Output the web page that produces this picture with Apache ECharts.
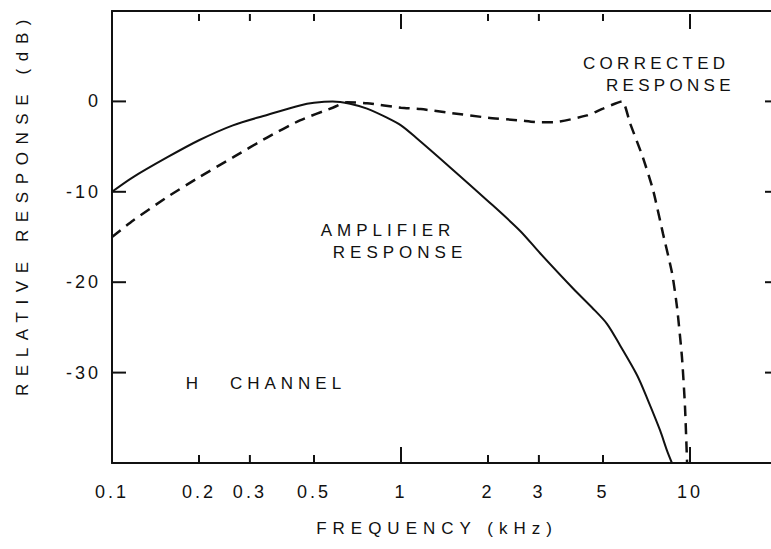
<!DOCTYPE html>
<html>
<head>
<meta charset="utf-8">
<script src="https://cdn.jsdelivr.net/npm/echarts@6/dist/echarts.min.js"></script>
<style>
  html, body { margin: 0; padding: 0; background: #ffffff; }
  #chart { width: 771px; height: 549px; }
</style>
</head>
<body>
<div id="chart"></div>
<script>
// Amplifier response (solid curve): frequency in kHz, level in dB
const ampFreq = [0.1, 0.118, 0.155, 0.2, 0.262, 0.344, 0.447, 0.5, 0.58, 0.666, 0.763, 0.894, 1.0, 1.136, 1.48, 1.98, 2.58, 3.03, 3.94, 4.58, 5.16, 5.73, 6.56, 7.16, 7.88, 8.32, 8.66];
const ampDb   = [-10, -8.4, -6.2, -4.3, -2.65, -1.5, -0.45, -0.15, 0, -0.25, -0.8, -1.8, -2.65, -4.1, -7.3, -10.9, -14.3, -16.8, -20.7, -22.8, -24.6, -27.0, -30.3, -33.1, -36.4, -38.6, -40];

// Corrected response (dashed curve)
const corFreq = [0.1, 0.118, 0.155, 0.2, 0.262, 0.344, 0.447, 0.58, 0.65, 0.763, 1.0, 1.17, 1.5, 2.0, 2.58, 3.0, 3.36, 4.4, 5.0, 5.82, 6.2, 6.87, 7.45, 8.06, 8.67, 9.02, 9.38, 9.61, 9.77];
const corDb   = [-15, -13.2, -10.6, -8.4, -6.2, -4.0, -2.1, -0.7, -0.1, -0.2, -0.7, -0.85, -1.3, -1.8, -2.1, -2.3, -2.3, -1.55, -0.8, 0, -2.4, -6.2, -9.8, -14.6, -19.0, -22.8, -28.3, -33.8, -40];

// Frequency axis ticks (kHz)
const xTickLabels = ['0.1', '0.2', '0.3', '0.5', '1', '2', '3', '5', '10'];
const xMinorTicks = [0.2, 0.3, 0.5, 2, 3, 5];
const xMajorTicks = [1, 10];
const xRange = [0.1, 20];

// Level axis ticks (dB)
const yTicks = [0, -10, -20, -30];
const yRange = [-40, 10];

const INK = '#111';
const FONT = '"Liberation Sans", Arial, Helvetica, sans-serif';

// frequency axis is drawn on log10(kHz)
const lg = v => Math.log10(v);
const toPairs = (fs, ds) => fs.map((f, i) => [lg(f), ds[i]]);

function freqLabel(v) {
  for (const s of xTickLabels) {
    if (Math.abs(lg(parseFloat(s)) - v) < 1e-6) return s;
  }
  return '';
}

const frameLine = { show: true, onZero: false, lineStyle: { color: INK, width: 2 } };

function caption(text, x, y, align, rotation) {
  return {
    type: 'text', x, y, rotation: rotation || 0, z: 10,
    style: { text, fill: INK, font: '17px ' + FONT, textAlign: align || 'center', textVerticalAlign: 'middle' }
  };
}
const captions = [
  caption('CORRECTED', 583, 63, 'left'),
  caption('RESPONSE', 606, 85, 'left'),
  caption('AMPLIFIER', 388, 230),
  caption('RESPONSE', 400, 252),
  caption('H', 192, 383),
  caption('CHANNEL', 288, 383),
  caption('FREQUENCY (kHz)', 437, 528),
  caption('RELATIVE RESPONSE (dB)', 22, 204, 'center', Math.PI / 2)
];

const option = {
  backgroundColor: '#ffffff',
  animation: false,
  grid: { left: 112, top: 11, right: -6, bottom: 86, containLabel: false, outerBoundsMode: 'none' },
  xAxis: [
    {
      type: 'value', position: 'bottom', min: lg(xRange[0]), max: lg(xRange[1]),
      splitLine: { show: false }, axisTick: { show: false }, axisLine: frameLine,
      axisLabel: {
        show: true, margin: 20, color: INK, fontFamily: FONT, fontSize: 18,
        customValues: xTickLabels.map(s => lg(parseFloat(s))),
        formatter: freqLabel
      }
    },
    {
      type: 'value', position: 'top', min: lg(xRange[0]), max: lg(xRange[1]),
      splitLine: { show: false }, axisTick: { show: false }, axisLabel: { show: false }, axisLine: frameLine
    }
  ],
  yAxis: [
    {
      type: 'value', position: 'left', min: yRange[0], max: yRange[1], interval: 10,
      splitLine: { show: false }, axisTick: { show: false }, axisLine: frameLine,
      axisLabel: {
        show: true, margin: 11, color: INK, fontFamily: FONT, fontSize: 18,
        customValues: yTicks, formatter: v => String(v)
      }
    }
  ],
  series: [
    {
      name: 'AMPLIFIER RESPONSE', type: 'line', xAxisIndex: 0, yAxisIndex: 0,
      data: toPairs(ampFreq, ampDb), showSymbol: false, smooth: 0.3,
      lineStyle: { color: INK, width: 2 }
    },
    {
      name: 'CORRECTED RESPONSE', type: 'line', xAxisIndex: 0, yAxisIndex: 0,
      data: toPairs(corFreq, corDb), showSymbol: false, smooth: 0.2,
      lineStyle: { color: INK, width: 2.5, type: [11, 7] }
    }
  ]
};

// wide hand-lettered spacing for the captions and tick labels
const spacing = {
  'RELATIVE RESPONSE (dB)': 7.6,
  'FREQUENCY (kHz)': 6,
  'CORRECTED': 4.3,
  'AMPLIFIER': 5,
  'CHANNEL': 5,
  'H': 0
};
function applySpacing() {
  document.querySelectorAll('#chart svg text').forEach(t => {
    const s = t.textContent;
    let px = Object.prototype.hasOwnProperty.call(spacing, s) ? spacing[s] : 3;
    if (s === 'RESPONSE') {
      // the upper-right caption is set a little tighter than the one under the curve
      const tf = t.getAttribute('transform') || '';
      const xAttr = parseFloat(t.getAttribute('x') || '0');
      px = (xAttr > 500 || /translate\(\s*(5|6|7)\d\d/.test(tf) || /matrix\([^)]*,\s*(5|6|7)\d\d(\.\d+)?\s*,/.test(tf)) ? 4.3 : 5;
    }
    t.style.letterSpacing = px + 'px';
  });
}

const chart = echarts.init(document.getElementById('chart'), null, { renderer: 'svg' });
chart.on('finished', applySpacing);
chart.setOption(option);

// tick marks on all four sides of the frame, placed through the grid's own scales;
// each tick is a small filled bar running from the frame into the plot
const toPx = (x, y) => chart.convertToPixel({ gridIndex: 0 }, [x, y]);
function ticks(points, d1, d2) {
  return points.map(pt => {
    const p = toPx(pt[0], pt[1]);
    const xa = p[0] + d1[0], ya = p[1] + d1[1], xb = p[0] + d2[0], yb = p[1] + d2[1];
    const vertical = xa === xb;
    const x = vertical ? xa - 1 : Math.min(xa, xb);
    const y = vertical ? Math.min(ya, yb) : ya - 1;
    const w = vertical ? 2 : Math.abs(xb - xa);
    const h = vertical ? Math.abs(yb - ya) : 2;
    return {
      type: 'rect', z: 10,
      shape: { x, y, width: w, height: h },
      style: { fill: INK }
    };
  });
}
const onBottom = fs => fs.map(f => [lg(f), yRange[0]]);
const onTop = fs => fs.map(f => [lg(f), yRange[1]]);
const onLeft = vs => vs.map(v => [lg(xRange[0]), v]);
const onRight = vs => vs.map(v => [lg(xRange[1]), v]);

const tickMarks = [].concat(
  ticks(onBottom(xMinorTicks), [0, 0], [0, -8]),
  ticks(onBottom(xMajorTicks), [0, 0], [0, -16]),
  ticks(onTop(xMinorTicks), [0, 3], [0, 10]),
  ticks(onTop(xMajorTicks), [0, 3], [0, 18]),
  ticks(onLeft(yTicks), [0, 0], [14, 0]),
  ticks(onRight(yTicks), [-12, 0], [0, 0])
);

chart.setOption({ graphic: tickMarks.concat(captions) });
applySpacing();
</script>
</body>
</html>
